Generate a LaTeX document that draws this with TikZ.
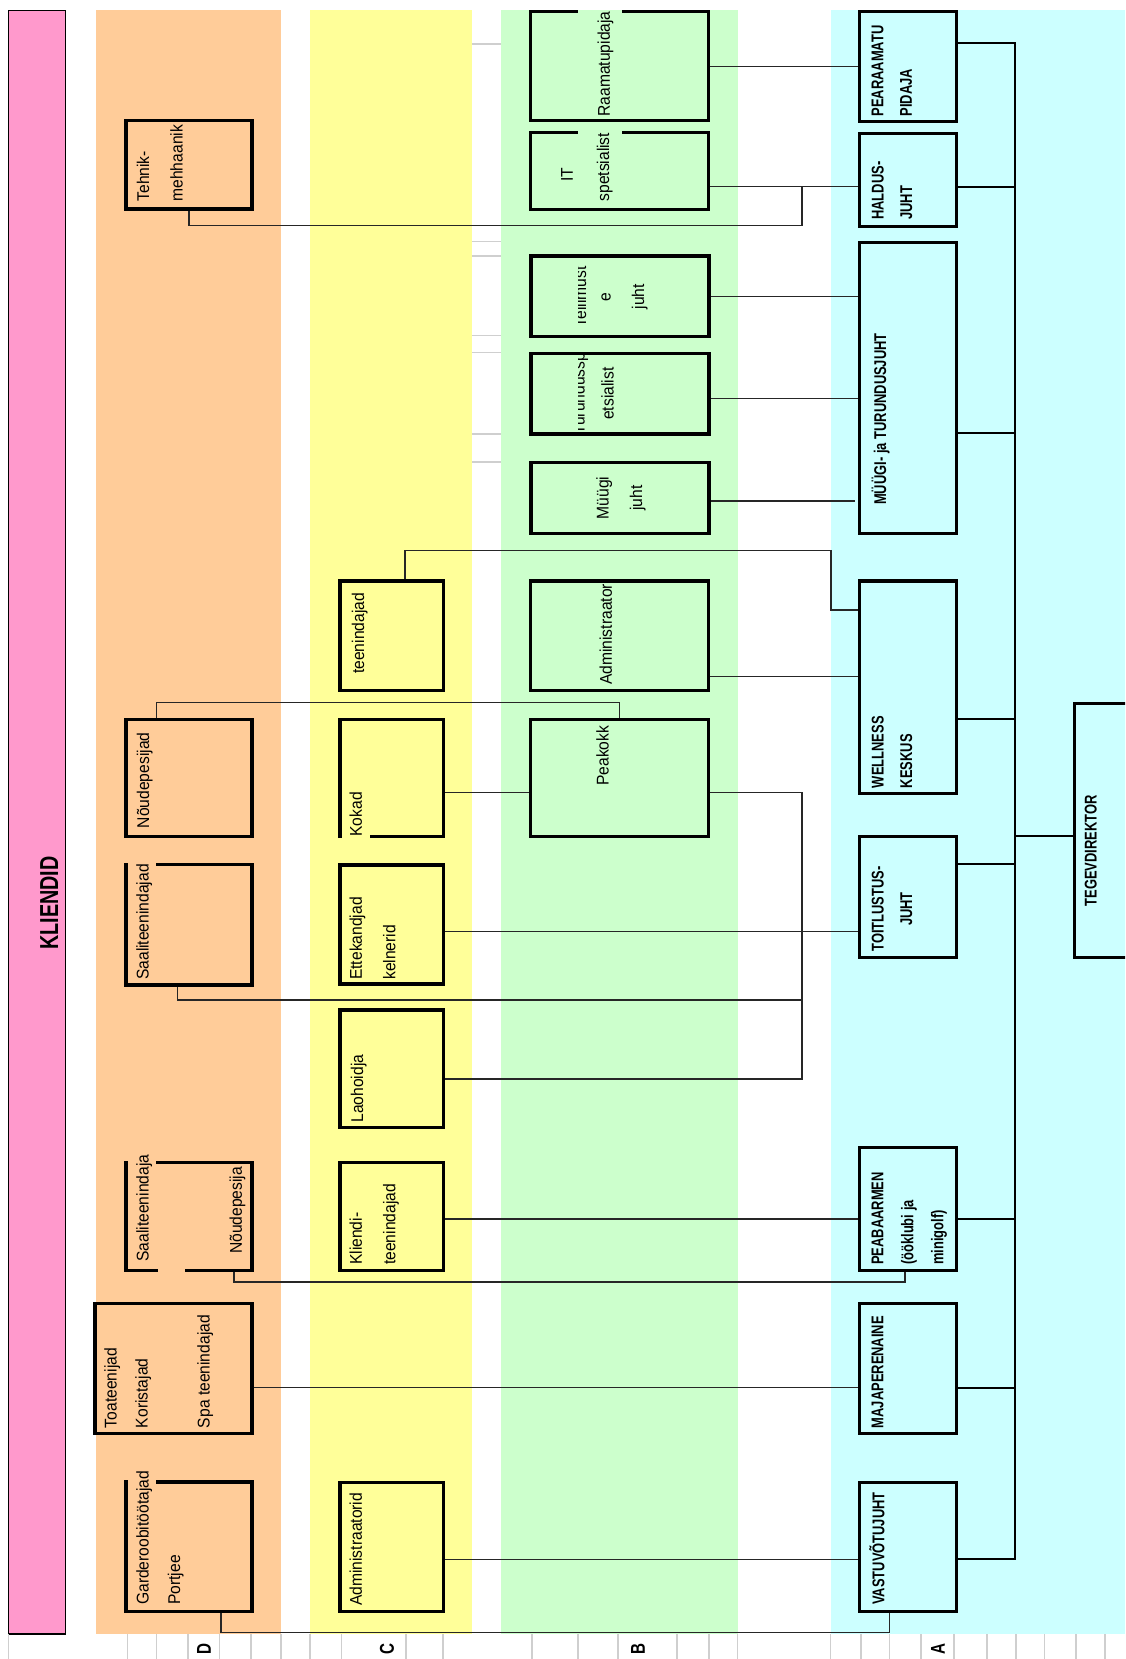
\documentclass[tikz,border=0pt]{standalone}
\usepackage{fontspec}
\setmainfont{Liberation Sans}
\newfontfamily\txtfont[FakeStretch=0.92]{Liberation Sans}
\newfontfamily\hdrfont[FakeStretch=0.76]{Liberation Sans}
\usetikzlibrary{positioning,fit,calc}
\definecolor{klient}{HTML}{FF99CC}
\definecolor{bandD}{HTML}{FFCC99}
\definecolor{bandC}{HTML}{FFFF99}
\definecolor{bandB}{HTML}{CCFFCC}
\definecolor{bandA}{HTML}{CCFFFF}
\definecolor{gridgrey}{HTML}{CFCFCF}

\begin{document}
\begin{tikzpicture}[x=1pt, y=-1pt,
    orgbox/.style={draw, line width=3.2pt, inner sep=0pt},
    dbox/.style={orgbox, fill=bandD},
    cbox/.style={orgbox, fill=bandC},
    bbox/.style={orgbox, fill=bandB},
    abox/.style={orgbox, fill=bandA},
    lbl/.style={rotate=90, inner sep=0pt, anchor=north west, align=left, font=\txtfont\fontsize{17}{33.5}\selectfont},
    hlbl/.style={lbl, font=\hdrfont\bfseries\fontsize{17}{28.5}\selectfont},
    colletter/.style={rotate=90, inner sep=0pt, font=\hdrfont\bfseries\fontsize{20}{20}\selectfont},
    conn/.style={line width=1.3pt, draw=black!85},
    spine/.style={line width=1.8pt, draw=black},
    gridline/.style={line width=1.2pt, draw=gridgrey}
]
\useasboundingbox (0,0) rectangle (1125,1659);
\clip (0,0) rectangle (1125,1659);

% bands
\fill[bandD] (96,10) rectangle (281,1634);
\fill[bandC] (310,10) rectangle (472,1634);
\fill[bandB] (501,10) rectangle (738,1634);
\fill[bandA] (830.5,10) rectangle (1125,1634);
\node[draw, line width=1.5pt, fill=klient, inner sep=0pt, fit={(8.6,10.6) (65.6,1634)}] (kliendid) {};
\node[hlbl, anchor=north, font=\hdrfont\bfseries\fontsize{26}{26}\selectfont] (kliendidT) at (40,903) {KLIENDID};

% grid lines
\foreach \yy in {44,241.7,256,335.7,352.7,434,462}
  \draw[gridline] (472,\yy) -- (501,\yy);
\foreach \xx in {8.6,127.7,156.4,188,219.5,251,281,310,341.5,406,443,532,578,618,677,709,737.5,830.7,861,889.5,921,954,987,1016,1044.5,1076,1105}
  \draw[gridline] (\xx,1634) -- (\xx,1659);
\node[colletter] (colD) at (204,1649) {D};
\node[colletter] (colC) at (387,1649) {C};
\node[colletter] (colB) at (638,1649) {B};
\node[colletter] (colA) at (938,1649) {A};

% column D
\node[dbox, fit={(126,120.7) (252,209)}] (tehnik) {};
\node[dbox, fit={(126,719.3) (252,836.7)}] (noude) {};
\node[dbox, fit={(126,864.3) (252,985)}] (saal) {};
\node[dbox, fit={(126,1162.7) (252,1270.7)}] (saalnoude) {};
\node[dbox, fit={(95,1303.3) (252,1433.3)}] (toa) {};
\node[dbox, fit={(126,1482) (252,1611.7)}] (garde) {};
% column C
\node[cbox, fit={(340,581) (443.3,690.7)}] (teen) {};
\node[cbox, fit={(340,719.3) (443.3,836.3)}] (kokad) {};
\node[cbox, fit={(340,865) (443.3,984)}] (ette) {};
\node[cbox, fit={(340,1010) (443.3,1127.3)}] (lao) {};
\node[cbox, fit={(340,1162.7) (443.3,1270.7)}] (kliendi) {};
\node[cbox, fit={(340,1482.3) (443.3,1611.7)}] (admins) {};
% column B
\node[bbox, fit={(530.5,11.7) (708.7,120.7)}] (raamat) {};
\node[bbox, fit={(530.5,132.7) (708.7,209.3)}] (it) {};
\node[bbox, fit={(531,256) (709,336.7)}] (tellim) {};
\node[bbox, fit={(531,353.3) (709,434)}] (turund) {};
\node[bbox, fit={(531,462.7) (709,533.3)}] (myygi) {};
\node[bbox, fit={(530.5,581) (708.7,690.7)}] (admin) {};
\node[bbox, fit={(530.5,719.3) (708.7,836.3)}] (peakokk) {};
% column A
\node[abox, fit={(859.4,11.7) (956.6,121.7)}] (pearaam) {};
\node[abox, fit={(859.4,133.3) (956.6,226.7)}] (haldus) {};
\node[abox, fit={(859.4,242.7) (956.6,533.3)}] (myygijuht) {};
\node[abox, fit={(859.4,581) (956.6,793.3)}] (wellness) {};
\node[abox, fit={(859.4,836.7) (956.6,957.3)}] (toitlus) {};
\node[abox, fit={(859.4,1147.3) (956.6,1270.7)}] (peabaar) {};
\node[abox, fit={(859.4,1303.3) (956.6,1433.3)}] (maja) {};
\node[abox, fit={(859.4,1482.3) (956.6,1611.7)}] (vastuv) {};
\node[abox, fit={(1074.4,703.3) (1140,957.3)}] (tegev) {};

% borders broken by the texts
\fill[bandB] (578,10) rectangle (621.6,14);
\fill[bandB] (578,130.7) rectangle (621.6,134.7);
\fill[bandD] (128,862) rectangle (156,866.5);
\fill[bandD] (128,1160.5) rectangle (156,1165);
\fill[bandD] (158,1268.5) rectangle (185,1273);
\fill[bandD] (128,1480) rectangle (156,1484.5);
\fill[bandC] (342,834) rectangle (370,838.5);

% connectors
\coordinate (spinetop) at (1015.3,43.3);
\coordinate (spinebot) at (1015.3,1559.3);
\coordinate (pk) at (802,792.7);
\coordinate (hj) at (802,186.7);
\draw[conn] (raamat.east) -- (raamat.east -| pearaam.west);
\draw[conn] (it.east |- hj) -- (haldus.west |- hj);
\draw[conn] (tehnik.south) |- (802,225.7) -- (hj);
\draw[conn] (tellim.east) -- (tellim.east -| myygijuht.west);
\draw[conn] (turund.east |- 0,398.3) -- (myygijuht.west |- 0,398.3);
\draw[conn] (myygi.east |- 0,501) -- (854.5,501);
\draw[conn] (teen.north -| 405,0) |- (831,550.7) |- (wellness.west |- 0,610);
\draw[conn] (admin.east |- 0,676.7) -- (wellness.west |- 0,676.7);
\draw[conn] (peakokk.north) |- (156.7,702.7) -- (noude.north -| 156.7,0);
\draw[conn] (kokad.east |- pk) -- (peakokk.west |- pk);
\draw[conn] (peakokk.east |- pk) -- (pk) |- (lao.east |- 0,1079);
\draw[conn] (saal.south -| 177.7,0) |- (pk |- 0,1000);
\draw[conn] (ette.east |- 0,931.7) -- (toitlus.west |- 0,931.7);
\draw[conn] (kliendi.east |- 0,1219) -- (peabaar.west |- 0,1219);
\draw[conn] (saalnoude.south -| 234,0) |- (905,1282) -- (peabaar.south -| 905,0);
\draw[conn] (toa.east |- 0,1387.7) -- (maja.west |- 0,1387.7);
\draw[conn] (admins.east |- spinebot) -- (vastuv.west |- spinebot);
\draw[conn] (garde.south -| 221,0) |- (889.5,1632.7) -- (vastuv.south -| 889.5,0);

\draw[spine] (pearaam.east |- spinetop) -- (spinetop) -- (spinebot) -- (vastuv.east |- spinebot);
\foreach \b/\yy in {haldus/186.7, myygijuht/433.3, wellness/719, toitlus/864, peabaar/1219.3, maja/1387.7}
  \draw[spine] (\b.east |- 0,\yy) -- (spinetop |- 0,\yy);
\draw[spine] (tegev.west |- 0,835.7) -- (spinetop |- 0,835.7);

% texts
\node[lbl] (tehnikT) at (136.7,201.7) {Tehnik-\\mehhaanik};
\node[lbl] (noudeT) at (136.7,828.3) {Nõudepesijad};
\node[lbl] (saalT) at (136,980) {Saaliteenindajad};
\node[lbl] (saal2T) at (136,1261.7) {Saaliteenindaja};
\node[lbl] (noude2T) at (229.3,1254) {Nõudepesija};
\node[lbl, font=\txtfont\fontsize{17}{31}\selectfont] (toaT) at (104,1428.3) {Toateenijad\\Koristajad\\[31pt]Spa teenindajad};
\node[lbl, font=\txtfont\fontsize{17}{31.5}\selectfont] (gardeT) at (136,1605) {Garderoobitöötajad\\Portjee};
\node[lbl] (teenT) at (351.7,674) {teenindajad};
\node[lbl] (kokadT) at (349.3,836.7) {Kokad};
\node[lbl] (etteT) at (349.3,980) {Ettekandjad\\kelnerid};
\node[lbl] (laoT) at (350.7,1122.7) {Laohoidja};
\node[lbl] (kliendiT) at (349.3,1265) {Kliendi-\\teenindajad};
\node[lbl] (adminsT) at (349.3,1606) {Administraatorid};

\node[lbl] (raamatT) at (597.3,116.7) {Raamatupidaja};
\node[lbl, font=\txtfont\fontsize{17}{36.4}\selectfont] (itT) at (560.9,201.7) {\hspace*{20pt}IT\\spetsialist};
\begin{scope}
  \clip (578,256) rectangle (709,434);
  \node[lbl, anchor=north, align=center] (tellimT) at (573.6,296.7) {Tellimust\\[-9pt]e\\juht};
  \node[lbl, anchor=north, align=center] (turundT) at (572,393.7) {Turundussp\\[-4.5pt]etsialist};
\end{scope}
\node[lbl, anchor=north, align=center] (myygiT) at (596,498) {Müügi\\juht};
\node[lbl] (adminT) at (599.4,685) {Administraator};
\node[lbl] (peakokkT) at (596,786) {Peakokk};

\node[hlbl] (pearaamT) at (871.5,116.7) {PEARAAMATU\\PIDAJA};
\node[hlbl] (haldusT) at (871.5,220) {HALDUS-\\JUHT};
\node[hlbl] (myygijuhtT) at (871.5,505) {MÜÜGI- ja TURUNDUSJUHT};
\node[hlbl] (wellnessT) at (871.5,788.3) {WELLNESS\\KESKUS};
\node[hlbl, anchor=north, align=center] (toitlusT) at (871.5,909) {TOITLUSTUS-\\JUHT};
\node[hlbl] (tegevT) at (1084.6,906.7) {TEGEVDIREKTOR};
\node[hlbl, font=\hdrfont\bfseries\fontsize{17}{30}\selectfont] (peabaarT) at (871.5,1265) {PEABAARMEN\\(ööklubi ja\\minigolf)};
\node[hlbl] (majaT) at (871.5,1428.3) {MAJAPERENAINE};
\node[hlbl] (vastuvT) at (869,1605) {VASTUVÕTUJUHT};
\end{tikzpicture}
\end{document}
